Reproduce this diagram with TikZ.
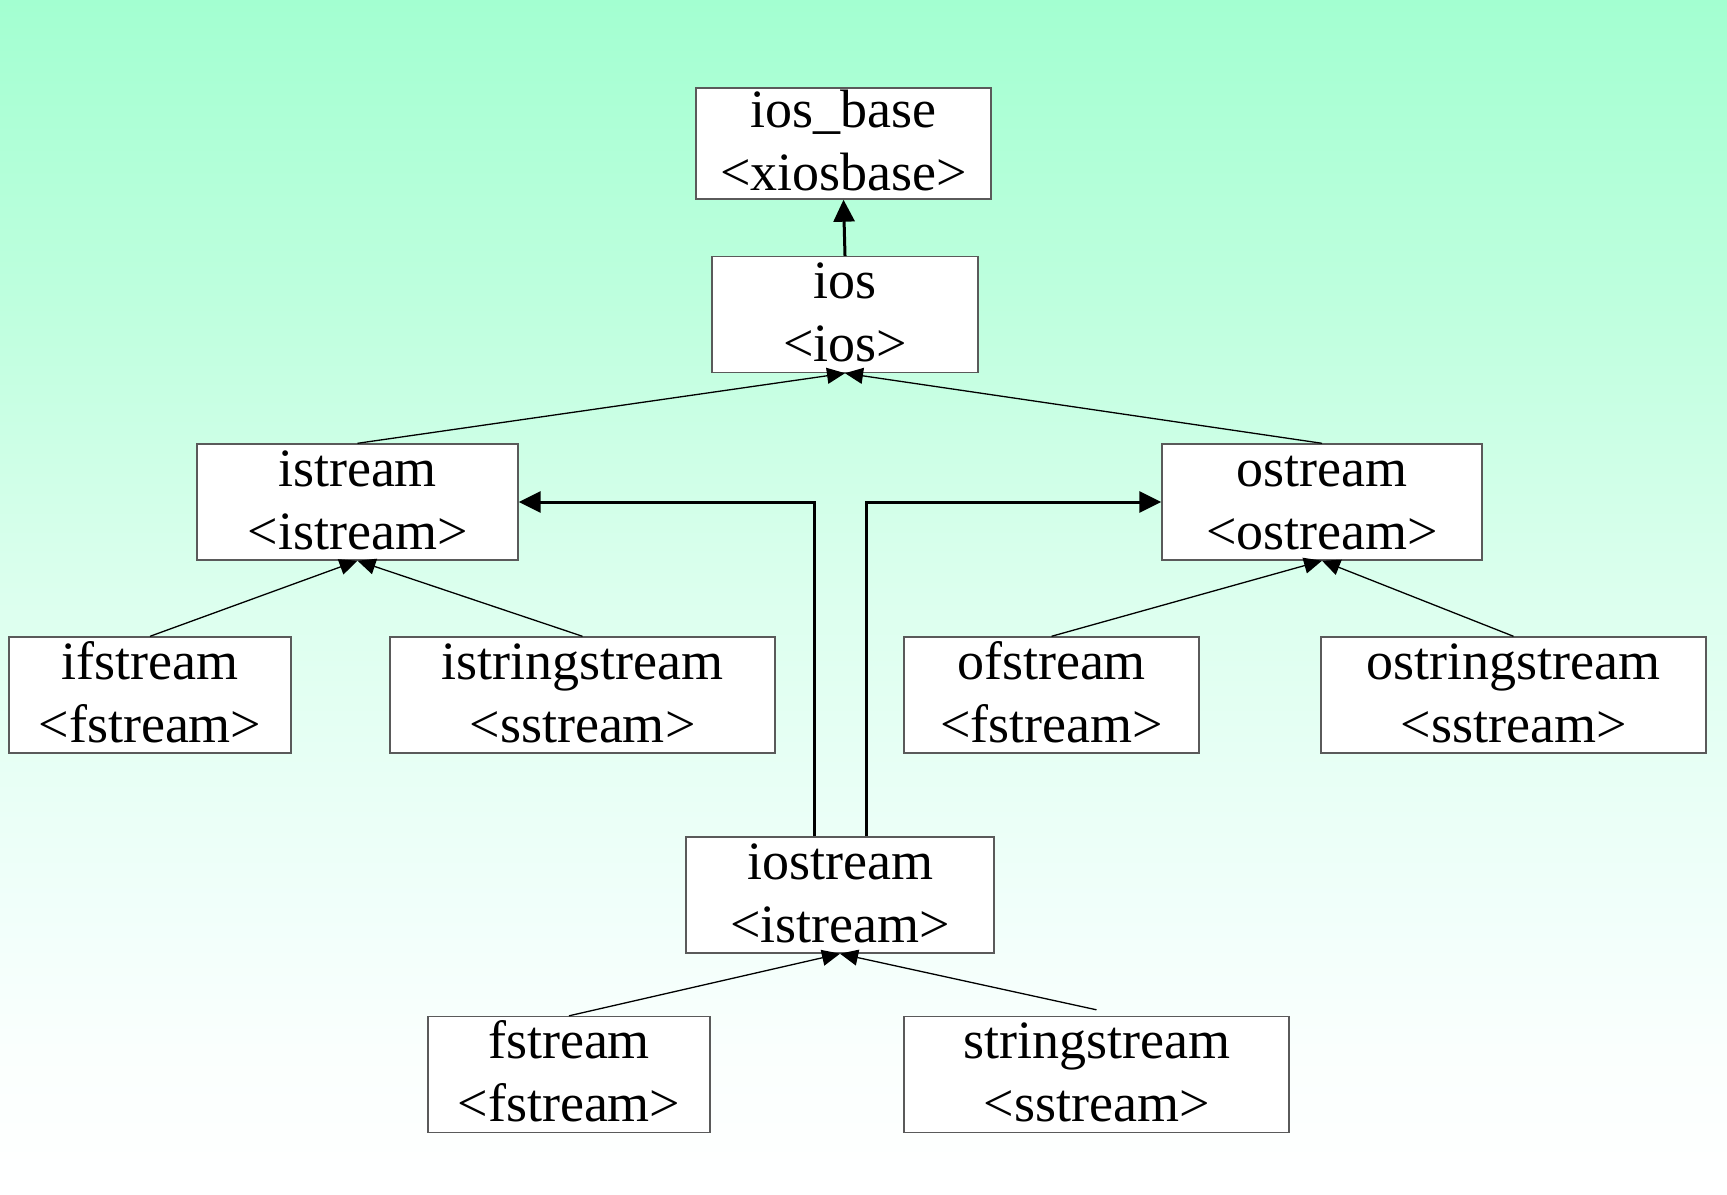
\documentclass[tikz,border=0pt]{standalone}
\usepackage{fontspec}
\setmainfont{Liberation Serif}
\usetikzlibrary{arrows.meta}
\definecolor{bgA}{RGB}{163,255,209}
\definecolor{bgB}{RGB}{190,255,222}
\definecolor{bgC}{RGB}{220,255,238}
\definecolor{bgD}{RGB}{240,255,250}
\definecolor{bgE}{RGB}{250,255,253}
\definecolor{boxline}{RGB}{90,90,90}
\pgfdeclareverticalshading{bgshade}{100bp}{color(0bp)=(white); color(25bp)=(white); color(31bp)=(bgE); color(37.3bp)=(bgD); color(50bp)=(bgC); color(62.4bp)=(bgB); color(75bp)=(bgA); color(100bp)=(bgA)}
\tikzset{
  cls/.style={draw=boxline, line width=0.7pt, fill=white, rectangle, minimum height=58pt, inner sep=0pt},
  txt/.style={align=center, inner sep=0pt, font=\fontsize{27pt}{31.5pt}\selectfont, yshift=-1.5pt},
  inh/.style={line width=0.65pt, -{Triangle[length=9pt,width=8pt]}},
  bold/.style={line width=1.5pt, -{Triangle[length=11pt,width=10.5pt]}}
}
\newcommand{\twoline}[2]{\strut #1\\\strut #2}
\begin{document}
\begin{tikzpicture}[x=0.5pt,y=-0.5pt]
\useasboundingbox (0,0) rectangle (1727,1194);
\path[shading=bgshade] (0,0) rectangle (1727,1194);
% boxes
\node[cls, minimum width=147.5pt, minimum height=55.5pt] (iosbase) at (843.5,143.5) {};
\node[cls, minimum width=133pt] (ios) at (845,314.5) {};
\node[cls, minimum width=160.5pt] (istream) at (357.5,502) {};
\node[cls, minimum width=160pt] (ostream) at (1322,502) {};
\node[cls, minimum width=141pt] (ifstream) at (150,695) {};
\node[cls, minimum width=192.5pt] (istringstream) at (582.5,695) {};
\node[cls, minimum width=147.5pt] (ofstream) at (1051.5,695) {};
\node[cls, minimum width=192.5pt] (ostringstream) at (1513.5,695) {};
\node[cls, minimum width=154pt] (iostream) at (840,895) {};
\node[cls, minimum width=141pt] (fstream) at (569,1074.5) {};
\node[cls, minimum width=192.5pt] (stringstream) at (1096.5,1074.5) {};
% texts
\node[txt] (t1) at (iosbase.center) {\twoline{ios\_base}{<xiosbase>}};
\node[txt] (t2) at (ios.center) {\twoline{ios}{<ios>}};
\node[txt] (t3) at (istream.center) {\twoline{istream}{<istream>}};
\node[txt] (t4) at (ostream.center) {\twoline{ostream}{<ostream>}};
\node[txt] (t5) at (ifstream.center) {\twoline{ifstream}{<fstream>}};
\node[txt] (t6) at (istringstream.center) {\twoline{istringstream}{<sstream>}};
\node[txt] (t7) at (ofstream.center) {\twoline{ofstream}{<fstream>}};
\node[txt] (t8) at (ostringstream.center) {\twoline{ostringstream}{<sstream>}};
\node[txt] (t9) at (iostream.center) {\twoline{iostream}{<istream>}};
\node[txt] (t10) at (fstream.center) {\twoline{fstream}{<fstream>}};
\node[txt] (t11) at (stringstream.center) {\twoline{stringstream}{<sstream>}};
% connectors
\draw[bold] (ios.north) -- (iosbase.south);
\draw[inh] (istream.north) -- (ios.south);
\draw[inh] (ostream.north) -- (ios.south);
\draw[inh] (ifstream.north) -- (istream.south);
\draw[inh] (istringstream.north) -- (istream.south);
\draw[inh] (ofstream.north) -- (ostream.south);
\draw[inh] (ostringstream.north) -- (ostream.south);
\draw[inh] (fstream.north) -- (iostream.south);
\draw[inh] ([yshift=3pt]stringstream.north) -- (iostream.south);
\draw[bold] ([xshift=-13pt]iostream.north) |- (istream.east);
\draw[bold] ([xshift=13pt]iostream.north) |- (ostream.west);
\end{tikzpicture}
\end{document}
